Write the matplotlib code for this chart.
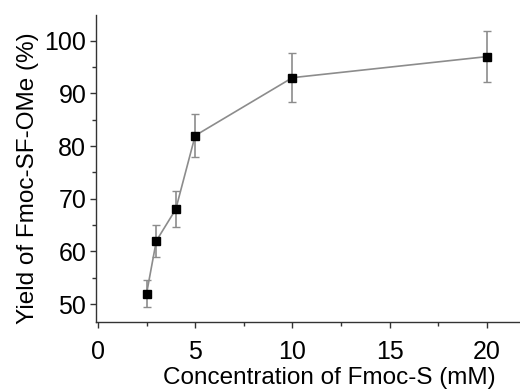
import matplotlib
matplotlib.use("Agg")
import matplotlib.pyplot as plt
from matplotlib.ticker import MultipleLocator

plt.rcParams['font.family'] = ['Liberation Sans', 'DejaVu Sans']

conc = [2.5, 3, 4, 5, 10, 20]
yield_pct = [52, 62, 68, 82, 93, 97]
err = [2.6, 3.0, 3.4, 4.1, 4.6, 4.9]
xlabel = "Concentration of Fmoc-S (mM)"
ylabel = "Yield of Fmoc-SF-OMe (%)"

fig = plt.figure(figsize=(5.2, 3.92), dpi=100)
ax = fig.add_axes([96/520, 1-322/392, 1-96/520, (322-15)/392])
ax.errorbar(conc, yield_pct, yerr=err, color='#8c8c8c', lw=1.2,
            ecolor='#8c8c8c', elinewidth=1.2, capsize=3, capthick=1,
            marker='s', markersize=6, markerfacecolor='black',
            markeredgecolor='black', zorder=3)
ax.set_xlim(-0.1, 21.7)
ax.set_ylim(46.6, 104.9)
ax.xaxis.set_major_locator(MultipleLocator(5))
ax.xaxis.set_minor_locator(MultipleLocator(2.5))
ax.yaxis.set_major_locator(MultipleLocator(10))
ax.yaxis.set_minor_locator(MultipleLocator(5))
for s in ['top', 'right']:
    ax.spines[s].set_visible(False)
for s in ['left', 'bottom']:
    ax.spines[s].set_color('#333333')
    ax.spines[s].set_linewidth(1.0)
ax.tick_params(which='major', direction='out', length=4, width=1, color='#333333', labelsize=18)
ax.tick_params(axis='x', which='major', pad=9)
ax.tick_params(axis='y', which='major', pad=3)
ax.tick_params(which='minor', direction='out', length=3, width=1, color='#333333')
ax.set_xlabel(xlabel, fontsize=17.5)
ax.xaxis.set_label_coords(0.55, -0.145)
ax.set_ylabel(ylabel, fontsize=17.5, labelpad=4, y=0.47)
fig.savefig("out.png", dpi=100)
